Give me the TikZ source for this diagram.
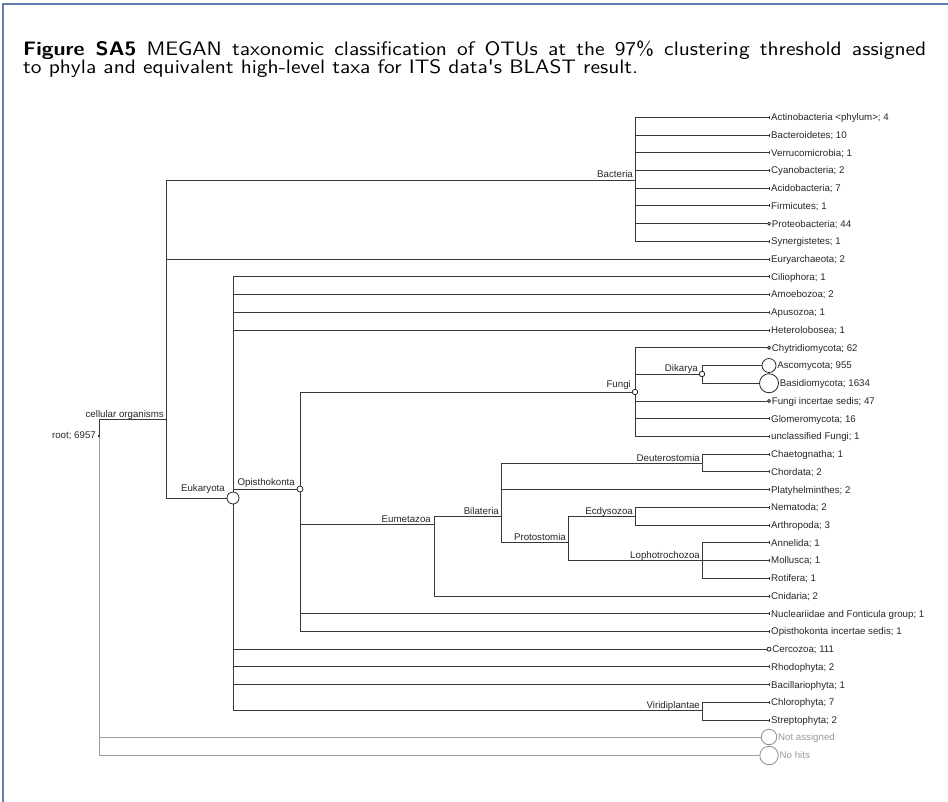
\documentclass[tikz,border=0pt]{standalone}
\usepackage{fontspec}
\usepackage{graphicx}
\newfontfamily\treefont{Liberation Sans}
\newfontfamily\capfont{lmsans10-regular.otf}[BoldFont=lmsans10-bold.otf]
\definecolor{framec}{RGB}{95,125,170}
\begin{document}
\begin{tikzpicture}[x=1pt,y=-1pt,
  lbl/.style={font=\treefont\fontsize{9.7}{11}\selectfont, text=black!85, inner sep=0pt},
  leaflbl/.style={lbl, anchor=base west},
  inlbl/.style={lbl, anchor=base east},
  glbl/.style={leaflbl, text=black!40},
  tline/.style={draw=black!78, line width=0.9pt},
  gline/.style={draw=black!38, line width=0.9pt},
  bub/.style={circle, draw=black!85, fill=white, line width=0.8pt, inner sep=0pt, minimum size=#1},
  gbub/.style={bub=#1, draw=black!45},
  frameline/.style={draw=framec, line width=1.5pt},
  captxt/.style={font=\capfont\fontsize{19.5}{20}\selectfont, anchor=base west, inner sep=0pt}]
\useasboundingbox (0,0) rectangle (948,802);
\draw[frameline] (3,802) -- (3,4) -- (948,4);

% caption
\node[captxt] (cap1) at (23,56) {\scalebox{1.1}[1]{\makebox[821pt][s]{\textbf{Figure SA5} MEGAN taxonomic classification of OTUs at the 97\% clustering threshold assigned}}};
\node[captxt] (cap2) at (23,74) {\scalebox{1.1}[1]{to phyla and equivalent high-level taxa for ITS data's BLAST result.}};

\newcommand\yl[1]{117.3+17.73*#1}
\newcommand\leaf[3]{%
  \coordinate (#1) at (769,{\yl{#2}});
  \node[leaflbl] (#1-l) at (771,{\yl{#2}+3.4}) {#3};
  \draw[tline, line width=0.7pt] ([yshift=1.5pt]#1) -- ([yshift=-1.5pt]#1);}
\newcommand\cleaf[4]{%
  \node[bub=#3] (#1) at (769,{\yl{#2}}) {};
  \node[leaflbl] (#1-l) at ({769+#3/2+1.2},{\yl{#2}+3.4}) {#4};}

% internal nodes
\coordinate (root) at (99,435);
\coordinate (cell) at (166,419);
\coordinate (bact) at (635,180);
\coordinate (eumet) at (434,524);
\coordinate (bilat) at (501,516);
\coordinate (deut) at (702,463);
\coordinate (prot) at (568,542);
\coordinate (ecdy) at (635,516);
\coordinate (loph) at (702,560);
\coordinate (viri) at (702,710);

% leaves
\leaf{actino}{0}{Actinobacteria <phylum>; 4}
\leaf{bactero}{1}{Bacteroidetes; 10}
\leaf{verru}{2}{Verrucomicrobia; 1}
\leaf{cyano}{3}{Cyanobacteria; 2}
\leaf{acido}{4}{Acidobacteria; 7}
\leaf{firmi}{5}{Firmicutes; 1}
\cleaf{proteo}{6}{3}{Proteobacteria; 44}
\leaf{synerg}{7}{Synergistetes; 1}
\leaf{eury}{8}{Euryarchaeota; 2}
\leaf{cilio}{9}{Ciliophora; 1}
\leaf{amoeb}{10}{Amoebozoa; 2}
\leaf{apuso}{11}{Apusozoa; 1}
\leaf{hetero}{12}{Heterolobosea; 1}
\cleaf{chyt}{13}{3}{Chytridiomycota; 62}
\cleaf{asco}{14}{14}{Ascomycota; 955}
\cleaf{basi}{15}{19}{Basidiomycota; 1634}
\cleaf{finc}{16}{3}{Fungi incertae sedis; 47}
\leaf{glom}{17}{Glomeromycota; 16}
\leaf{uncl}{18}{unclassified Fungi; 1}
\leaf{chaet}{19}{Chaetognatha; 1}
\leaf{chord}{20}{Chordata; 2}
\leaf{platy}{21}{Platyhelminthes; 2}
\leaf{nema}{22}{Nematoda; 2}
\leaf{arth}{23}{Arthropoda; 3}
\leaf{anne}{24}{Annelida; 1}
\leaf{moll}{25}{Mollusca; 1}
\leaf{roti}{26}{Rotifera; 1}
\leaf{cnid}{27}{Cnidaria; 2}
\leaf{nucl}{28}{Nucleariidae and Fonticula group; 1}
\leaf{oinc}{29}{Opisthokonta incertae sedis; 1}
\cleaf{cerco}{30}{4}{Cercozoa; 111}
\leaf{rhodo}{31}{Rhodophyta; 2}
\leaf{bacil}{32}{Bacillariophyta; 1}
\leaf{chlor}{33}{Chlorophyta; 7}
\leaf{strep}{34}{Streptophyta; 2}
\node[gbub=15.5] (na) at (769,737) {};
\node[glbl] (na-l) at (778,740.4) {Not assigned};
\node[gbub=18.5] (nh) at (769,755.5) {};
\node[glbl] (nh-l) at (779.5,758.9) {No hits};

% edges
\draw[gline] (root) |- (na);
\draw[gline] (root) |- (nh);
\draw[tline] (root) |- (cell);
\draw[tline, line width=1.4pt] (root) -- ++(0,1.5);
\draw[tline] (cell) |- (bact);
\draw[tline] (cell) |- (eury);
\foreach \c in {actino,bactero,verru,cyano,acido,firmi,proteo,synerg}
  \draw[tline] (bact) |- (\c);
\node[bub=12] (euk) at (233,498) {};
\draw[tline] (cell) |- (euk);
\node[bub=6] (opis) at (300,489) {};
\node[bub=5.5] (fungi) at (635,392) {};
\node[bub=5.5] (dik) at (702,374) {};
\foreach \c in {cilio,amoeb,apuso,hetero,opis,cerco,rhodo,bacil,viri}
  \draw[tline] (euk) |- (\c);
\foreach \c in {fungi,eumet,nucl,oinc}
  \draw[tline] (opis) |- (\c);
\foreach \c in {chyt,dik,finc,glom,uncl}
  \draw[tline] (fungi) |- (\c);
\foreach \c in {asco,basi}
  \draw[tline] (dik) |- (\c);
\foreach \c in {bilat,cnid}
  \draw[tline] (eumet) |- (\c);
\foreach \c in {deut,platy,prot}
  \draw[tline] (bilat) |- (\c);
\foreach \c in {chaet,chord}
  \draw[tline] (deut) |- (\c);
\foreach \c in {ecdy,loph}
  \draw[tline] (prot) |- (\c);
\foreach \c in {nema,arth}
  \draw[tline] (ecdy) |- (\c);
\foreach \c in {anne,moll,roti}
  \draw[tline] (loph) |- (\c);
\foreach \c in {chlor,strep}
  \draw[tline] (viri) |- (\c);

% internal labels
\node[inlbl] (root-l) at (96,438.5) {root; 6957};
\node[inlbl] (cell-l) at (164,417) {cellular organisms};
\node[inlbl] (bact-l) at (633,178) {Bacteria};
\node[inlbl] (euk-l) at (225,491) {Eukaryota};
\node[inlbl] (opis-l) at (295,485) {Opisthokonta};
\node[inlbl] (fungi-l) at (631,388) {Fungi};
\node[inlbl] (dik-l) at (698,371) {Dikarya};
\node[inlbl] (eumet-l) at (431,522) {Eumetazoa};
\node[inlbl] (bilat-l) at (499,514) {Bilateria};
\node[inlbl] (prot-l) at (566,540) {Protostomia};
\node[inlbl] (ecdy-l) at (633,514) {Ecdysozoa};
\node[inlbl] (deut-l) at (700,461) {Deuterostomia};
\node[inlbl] (loph-l) at (700,558) {Lophotrochozoa};
\node[inlbl] (viri-l) at (700,708) {Viridiplantae};
\end{tikzpicture}
\end{document}
